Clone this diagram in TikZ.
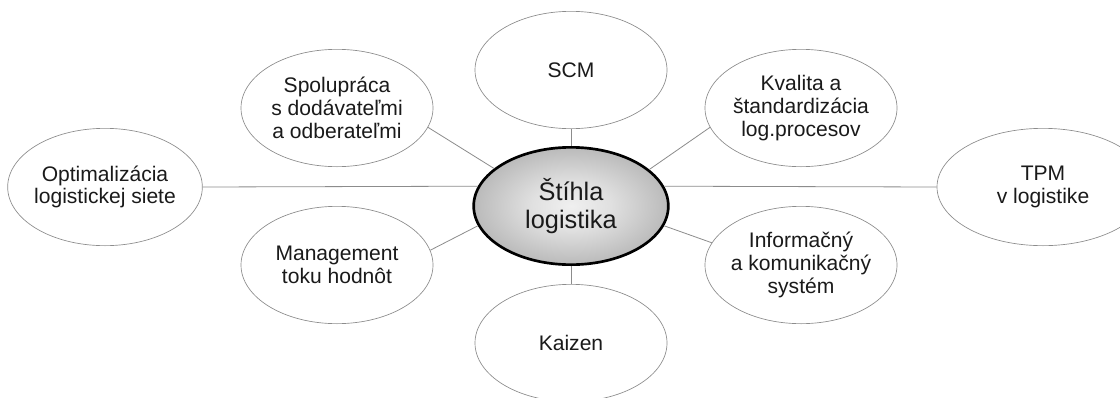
\documentclass[tikz,border=0pt]{standalone}
\usepackage{fontspec}
\setmainfont{Liberation Sans}
\usetikzlibrary{shapes.geometric}
\definecolor{lgline}{HTML}{8C8C8C}
\definecolor{lgtext}{HTML}{1A1A1A}
\pgfdeclareradialshading{hubshade}{\pgfpoint{0bp}{0bp}}{%
  color(0bp)=(white!94!black); color(10bp)=(white!88!black);
  color(50bp)=(black!52)}

\begin{document}
\begin{tikzpicture}[x=0.75pt, y=-0.75pt,
  sat/.style={ellipse, draw=lgline, line width=0.5pt, fill=white,
              inner xsep=-6pt, inner ysep=0pt,
              minimum width=144pt, minimum height=88pt, align=center,
              font=\fontsize{15.8}{17}\selectfont, text=lgtext},
  hub/.style={ellipse, draw=black, line width=2pt, inner sep=0pt,
              minimum width=146pt, minimum height=88pt, align=center,
              shading=hubshade, font=\fontsize{19}{21}\selectfont, text=lgtext},
  link/.style={draw=lgline, line width=0.6pt},
]
\path[use as bounding box, clip] (0,0) rectangle (1120,397);
\fill[white] (0,0) rectangle (1120,397);

% stredna elipsa
\node[hub] (hub) at (571,206) {Štíhla\\logistika};

% okolite elipsy
\node[sat] (scm) at (571,70)  {SCM};
\node[sat] (spo) at (337,108) {Spolupráca\\s dodávateľmi\\a odberateľmi};
\node[sat] (kva) at (801,108) {Kvalita a\\štandardizácia\\log.procesov};
\node[sat, minimum width=146pt] (opt) at (105,187) {Optimalizácia\\logistickej siete};
\node[sat, minimum width=159pt] (tpm) at (1043,187) {TPM\\v logistike};
\node[sat] (man) at (337,265) {Management\\toku hodnôt};
\node[sat] (inf) at (801,265) {Informačný\\a komunikačný\\systém};
\node[sat] (kai) at (571,343) {Kaizen};

% spojnice
\draw[link] (opt.east) -- (hub.168);
\draw[link] (tpm.west) -- (hub.12);
\draw[link] (scm.south) -- (hub.north);
\draw[link] (kai.north) -- (hub.south);
\draw[link] (spo.-12) -- (hub.154);
\draw[link] (kva.192) -- (hub.25);
\draw[link] (man.9) -- (hub.192);
\draw[link] (inf.166) -- (hub.348);

\end{tikzpicture}
\end{document}
